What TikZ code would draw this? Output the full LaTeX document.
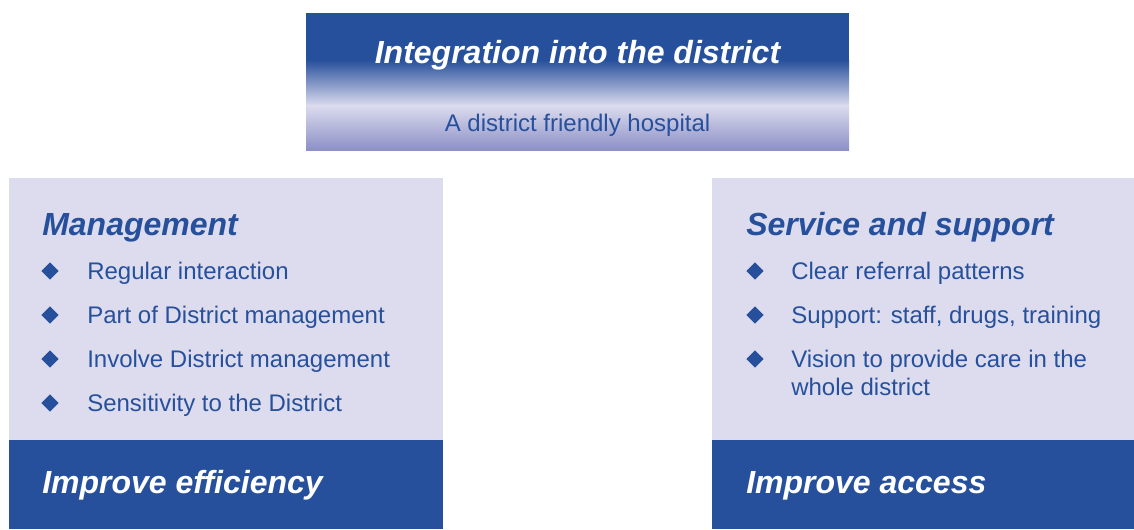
\documentclass[tikz,border=0pt]{standalone}
\usepackage{fontspec}
\setmainfont{Liberation Sans}
\usetikzlibrary{shapes.geometric}
\definecolor{dblue}{HTML}{27509C}
\definecolor{lilac}{HTML}{DCDCEE}
\definecolor{mlilac}{HTML}{8C90C6}
\tikzset{
  head/.style={anchor=base west,inner sep=0pt,font=\fontsize{24pt}{28pt}\selectfont\bfseries\itshape},
  item/.style={anchor=base west,inner sep=0pt,text=dblue,align=left,font=\fontsize{18pt}{21pt}\selectfont},
  dot/.style={diamond,fill=dblue,inner sep=0pt,minimum size=13pt}
}
\begin{document}
\begin{tikzpicture}[x=0.75pt,y=-0.75pt]
        \useasboundingbox (0,0) rectangle (1134,529);
        % top box
        \fill[dblue] (306,13) rectangle (849,61);
        \shade[top color=dblue,bottom color=lilac] (306,60) rectangle (849,106);
        \shade[top color=lilac,bottom color=mlilac] (306,105) rectangle (849,150);
        \node[head,anchor=base,text=white] (title) at (577.5,63) {Integration into the district};
        \node[item,anchor=base] (sub) at (577.5,131) {A district friendly hospital};
        % left box
        \fill[lilac] (9,178) rectangle (443,441);
        \fill[dblue] (9,440) rectangle (443,529);
        \node[head,text=dblue] (mgmt) at (42,235) {Management};
        \node[dot] (b1) at (50,271) {};
        \node[dot] (b2) at (50,315) {};
        \node[dot] (b3) at (50,359) {};
        \node[dot] (b4) at (50,403) {};
        \node[item] (m1) at (87,279) {Regular interaction};
        \node[item] (m2) at (87,323) {Part of District management};
        \node[item] (m3) at (87,367) {Involve District management};
        \node[item] (m4) at (87,411) {Sensitivity to the District};
        \node[head,text=white] (eff) at (42,493) {Improve efficiency};
        % right box
        \fill[lilac] (712,178) rectangle (1134,441);
        \fill[dblue] (712,440) rectangle (1134,529);
        \node[head,text=dblue] (serv) at (746,235) {Service and support};
        \node[dot] (c1) at (755,271) {};
        \node[dot] (c2) at (755,315) {};
        \node[dot] (c3) at (755,359) {};
        \node[item] (s1) at (791,279) {Clear referral patterns};
        \node[item] (s2) at (791,323) {Support: staff, drugs, training};
        \node[item] (s3) at (791,395) {Vision to provide care in the\\whole district};
        \node[head,text=white] (acc) at (746,493) {Improve access};
        \end{tikzpicture}
\end{document}
